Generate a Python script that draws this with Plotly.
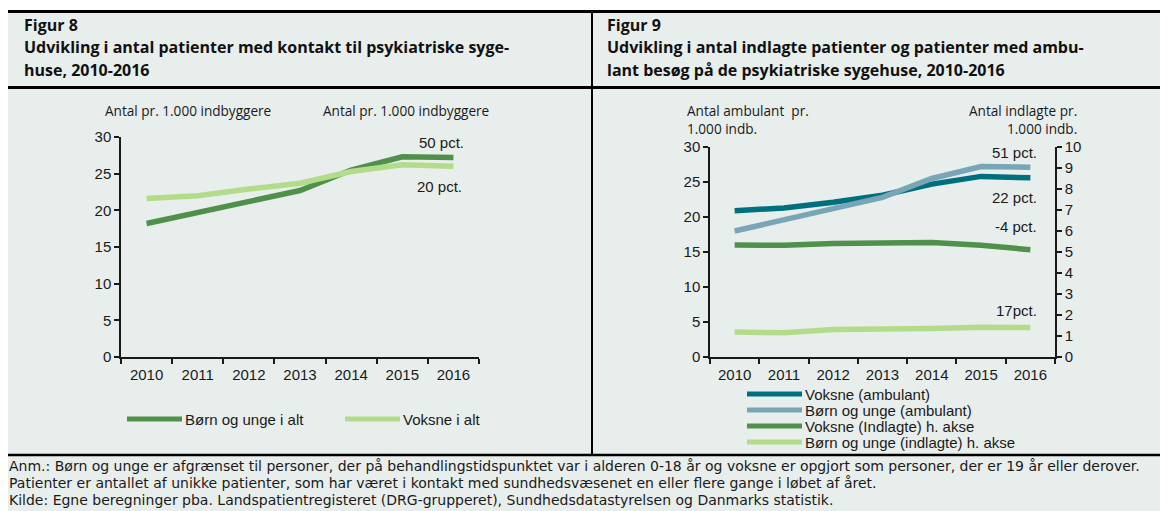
import plotly.graph_objects as go

# The page body has an 8px margin, so the figure covers the window from (8, 8).
OFF = 8
W, H = 1168 - OFF, 511 - OFF

years = ["2010", "2011", "2012", "2013", "2014", "2015", "2016"]

# Figur 8
fig8_names = ["Børn og unge i alt", "Voksne i alt"]
fig8_born = [18.2, 19.7, 21.2, 22.7, 25.5, 27.3, 27.2]
fig8_voksne = [21.6, 22.0, 22.9, 23.7, 25.3, 26.2, 26.0]
fig8_labels = ["50 pct.", "20 pct."]

# Figur 9
fig9_names = ["Voksne (ambulant)", "Børn og unge (ambulant)",
              "Voksne (Indlagte) h. akse", "Børn og unge (indlagte) h. akse"]
fig9_voksne_amb = [20.9, 21.3, 22.1, 23.1, 24.7, 25.8, 25.6]
fig9_born_amb = [18.0, 19.6, 21.2, 22.8, 25.5, 27.2, 27.1]
fig9_voksne_indl = [5.33, 5.32, 5.41, 5.46, 5.45, 5.32, 5.11]
fig9_born_indl = [1.19, 1.15, 1.31, 1.31, 1.36, 1.42, 1.40]
fig9_labels = ["51 pct.", "22 pct.", "-4 pct.", "17pct."]

C_DKGREEN = "#4f904b"
C_LTGREEN = "#b2dc8a"
C_TEAL = "#00707f"
C_GRAYBLUE = "#79a6b6"
BG = "#e8eeec"

TICKFONT = dict(family="Liberation Sans, Arial", size=15, color="#1a1a1a")
TITLEFONT = dict(family="Open Sans", size=13.6, color="#1a1a1a")
HEADFONT = dict(family="Open Sans", size=16, color="#111111")


def px(x):
    return (x - OFF) / W


def py(y):
    return 1 - (y - OFF) / H


fig = go.Figure()

LW = 5.5
fig.add_trace(go.Scatter(x=years, y=fig8_born, mode="lines", name=fig8_names[0],
                         line=dict(color=C_DKGREEN, width=LW), xaxis="x", yaxis="y"))
fig.add_trace(go.Scatter(x=years, y=fig8_voksne, mode="lines", name=fig8_names[1],
                         line=dict(color=C_LTGREEN, width=LW), xaxis="x", yaxis="y"))

fig.add_trace(go.Scatter(x=years, y=fig9_voksne_amb, mode="lines", name=fig9_names[0],
                         line=dict(color=C_TEAL, width=LW), xaxis="x2", yaxis="y3"))
fig.add_trace(go.Scatter(x=years, y=fig9_born_amb, mode="lines", name=fig9_names[1],
                         line=dict(color=C_GRAYBLUE, width=LW), xaxis="x2", yaxis="y3"))
fig.add_trace(go.Scatter(x=years, y=fig9_voksne_indl, mode="lines", name=fig9_names[2],
                         line=dict(color=C_DKGREEN, width=LW), xaxis="x2", yaxis="y4"))
fig.add_trace(go.Scatter(x=years, y=fig9_born_indl, mode="lines", name=fig9_names[3],
                         line=dict(color=C_LTGREEN, width=LW), xaxis="x2", yaxis="y4"))

axis_common = dict(showline=True, linecolor="#1a1a1a", linewidth=1.5, showgrid=False,
                   zeroline=False, ticks="outside", ticklen=5, tickwidth=1.5,
                   tickcolor="#1a1a1a", tickfont=TICKFONT, automargin=False)

xcommon = dict(axis_common, type="category", categoryorder="array", categoryarray=years,
               tickson="boundaries", range=[-0.5, 6.5], ticklabelstandoff=3)

fig.update_layout(
    template="none",
    width=W, height=H,
    margin=dict(l=0, r=0, t=0, b=0, pad=0, autoexpand=False),
    paper_bgcolor=BG, plot_bgcolor="rgba(0,0,0,0)",
    showlegend=False,
    xaxis=dict(xcommon, domain=[px(121), px(479)], anchor="y"),
    yaxis=dict(axis_common, domain=[py(357), py(137)], range=[0, 30], dtick=5, anchor="x"),
    yaxis2=dict(axis_common, range=[0, 30], dtick=5, overlaying="y", side="right", anchor="x"),
    xaxis2=dict(xcommon, domain=[px(710), px(1055)], anchor="y3"),
    yaxis3=dict(axis_common, domain=[py(357), py(147)], range=[0, 30], dtick=5, anchor="x2"),
    yaxis4=dict(axis_common, range=[0, 10], dtick=1, overlaying="y3", side="right", anchor="x2"),
)

shapes = []
# white strip above the top rule
shapes.append(dict(type="rect", xref="paper", yref="paper", x0=0, x1=1, y0=py(10), y1=1,
                   fillcolor="white", line=dict(width=0), layer="below"))


def hline(y, x0, x1, w):
    shapes.append(dict(type="line", xref="paper", yref="paper", x0=px(x0), x1=px(x1),
                       y0=py(y), y1=py(y), line=dict(color="black", width=w)))


hline(11.5, 8, 1168, 3)
hline(87.5, 8, 1168, 3)
hline(455, 8, 1168, 2.5)
shapes.append(dict(type="line", xref="paper", yref="paper", x0=px(592), x1=px(592),
                   y0=py(10), y1=py(455), line=dict(color="black", width=2)))

annotations = []


def txt(x, y, text, font, xanchor="left", yanchor="middle", align="left"):
    annotations.append(dict(xref="paper", yref="paper", x=px(x), y=py(y), text=text,
                            showarrow=False, font=font, xanchor=xanchor, yanchor=yanchor,
                            align=align, borderpad=0))


# headers
txt(23, 25, "<b>Figur 8</b>", HEADFONT)
txt(23, 47, "<b>Udvikling i antal patienter med kontakt til psykiatriske syge-</b>", HEADFONT)
txt(23, 70, "<b>huse, 2010-2016</b>", HEADFONT)
txt(606, 25, "<b>Figur 9</b>", HEADFONT)
txt(606, 47, "<b>Udvikling i antal indlagte patienter og patienter med ambu-</b>", HEADFONT)
txt(606, 70, "<b>lant besøg på de psykiatriske sygehuse, 2010-2016</b>", HEADFONT)

# axis titles
txt(104, 110, "Antal pr. 1.000 indbyggere", TITLEFONT)
txt(322, 110, "Antal pr. 1.000 indbyggere", TITLEFONT)
txt(686, 119, "Antal ambulant  pr.<br>1.000 indb.", TITLEFONT)
txt(1078, 119, "Antal indlagte pr.<br>1.000 indb.", TITLEFONT, xanchor="right", align="right")

# pct labels
txt(465, 142, fig8_labels[0], TICKFONT, xanchor="right")
txt(463, 186, fig8_labels[1], TICKFONT, xanchor="right")
for lab, yy in zip(fig9_labels, [152, 197, 226, 310]):
    txt(1038, yy, lab, TICKFONT, xanchor="right")

# legends (manual)
LEGFONT = dict(family="Liberation Sans, Arial", size=15, color="#1a1a1a")
for name, col, x0 in zip(fig8_names, [C_DKGREEN, C_LTGREEN], [127, 345]):
    shapes.append(dict(type="line", xref="paper", yref="paper", x0=px(x0), x1=px(x0 + 55),
                       y0=py(419), y1=py(419), line=dict(color=col, width=5)))
    txt(x0 + 57, 419, name, LEGFONT)
for name, col, yy in zip(fig9_names, [C_TEAL, C_GRAYBLUE, C_DKGREEN, C_LTGREEN],
                         [394, 410, 426, 442]):
    shapes.append(dict(type="line", xref="paper", yref="paper", x0=px(747), x1=px(802),
                       y0=py(yy), y1=py(yy), line=dict(color=col, width=5)))
    txt(804, yy, name, LEGFONT)

# footnote
FOOTFONT = dict(family="DejaVu Sans", size=14.0, color="#1a1a1a")
txt(8, 466, "Anm.: Børn og unge er afgrænset til personer, der på behandlingstidspunktet var i alderen 0-18 år og voksne er opgjort som personer, der er 19 år eller derover.", FOOTFONT)
txt(8, 483, "Patienter er antallet af unikke patienter, som har været i kontakt med sundhedsvæsenet en eller flere gange i løbet af året.", FOOTFONT)
txt(8, 500, "Kilde: Egne beregninger pba. Landspatientregisteret (DRG-grupperet), Sundhedsdatastyrelsen og Danmarks statistik.", FOOTFONT)

fig.update_layout(shapes=shapes, annotations=annotations)

fig.write_html("out.html")
